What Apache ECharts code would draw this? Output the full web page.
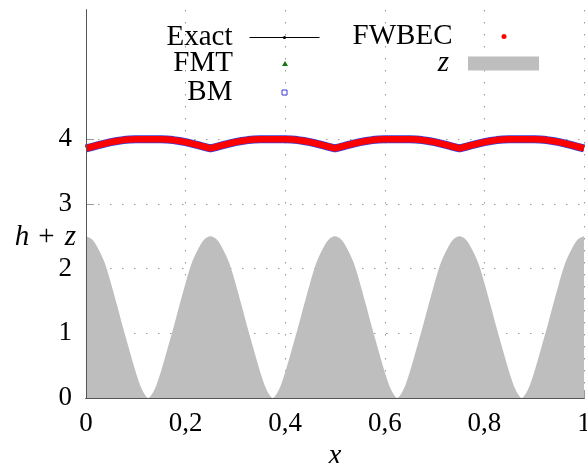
<!DOCTYPE html>
<html>
<head>
<meta charset="utf-8">
<script src="https://cdn.jsdelivr.net/npm/echarts@6/dist/echarts.min.js"></script>
<style>
  html, body { margin: 0; padding: 0; background: #fff; }
  #chart { width: 587px; height: 463px; }
</style>
</head>
<body>
<div id="chart"></div>
<script>
// ---------------- data ----------------
const xValues = [
  0, 0.0125, 0.025, 0.0375, 0.05, 0.0625, 0.075, 0.0875, 0.1, 0.1125,
  0.125, 0.1375, 0.15, 0.1625, 0.175, 0.1875, 0.2, 0.2125, 0.225, 0.2375,
  0.25, 0.2625, 0.275, 0.2875, 0.3, 0.3125, 0.325, 0.3375, 0.35, 0.3625,
  0.375, 0.3875, 0.4, 0.4125, 0.425, 0.4375, 0.45, 0.4625, 0.475, 0.4875,
  0.5, 0.5125, 0.525, 0.5375, 0.55, 0.5625, 0.575, 0.5875, 0.6, 0.6125,
  0.625, 0.6375, 0.65, 0.6625, 0.675, 0.6875, 0.7, 0.7125, 0.725, 0.7375,
  0.75, 0.7625, 0.775, 0.7875, 0.8, 0.8125, 0.825, 0.8375, 0.85, 0.8625,
  0.875, 0.8875, 0.9, 0.9125, 0.925, 0.9375, 0.95, 0.9625, 0.975, 0.9875,
  1
];
// bed elevation z
const bedZ = [
  2.50, 2.45, 2.30, 2.09, 1.78, 1.43, 1.07, 0.73, 0.40, 0.13,
  0.00, 0.13, 0.40, 0.73, 1.07, 1.43, 1.78, 2.09, 2.30, 2.45,
  2.50, 2.45, 2.30, 2.09, 1.78, 1.43, 1.07, 0.73, 0.40, 0.13,
  0.00, 0.13, 0.40, 0.73, 1.07, 1.43, 1.78, 2.09, 2.30, 2.45,
  2.50, 2.45, 2.30, 2.09, 1.78, 1.43, 1.07, 0.73, 0.40, 0.13,
  0.00, 0.13, 0.40, 0.73, 1.07, 1.43, 1.78, 2.09, 2.30, 2.45,
  2.50, 2.45, 2.30, 2.09, 1.78, 1.43, 1.07, 0.73, 0.40, 0.13,
  0.00, 0.13, 0.40, 0.73, 1.07, 1.43, 1.78, 2.09, 2.30, 2.45,
  2.50
];
// free surface h + z (all methods coincide at plot resolution)
const surfaceHZ = [
  3.860, 3.885, 3.910, 3.935, 3.957, 3.975, 3.988, 3.996, 4.000, 4.000,
  4.000, 4.000, 4.000, 3.996, 3.988, 3.975, 3.957, 3.935, 3.910, 3.885,
  3.860, 3.885, 3.910, 3.935, 3.957, 3.975, 3.988, 3.996, 4.000, 4.000,
  4.000, 4.000, 4.000, 3.996, 3.988, 3.975, 3.957, 3.935, 3.910, 3.885,
  3.860, 3.885, 3.910, 3.935, 3.957, 3.975, 3.988, 3.996, 4.000, 4.000,
  4.000, 4.000, 4.000, 3.996, 3.988, 3.975, 3.957, 3.935, 3.910, 3.885,
  3.860, 3.885, 3.910, 3.935, 3.957, 3.975, 3.988, 3.996, 4.000, 4.000,
  4.000, 4.000, 4.000, 3.996, 3.988, 3.975, 3.957, 3.935, 3.910, 3.885,
  3.860
];
const xTickValues = [0, 0.2, 0.4, 0.6, 0.8, 1];
const yTickValues = [0, 1, 2, 3, 4];
const seriesNames = ['Exact', 'FWBEC', 'FMT', 'BM', 'z'];

// ---------------- chart ----------------
const FONT = 'Liberation Serif';
const FS = 27;   // tick labels
const LFS = 29;  // legend / axis titles
const pairs = (ys) => xValues.map((x, i) => [x, ys[i]]);

const chart = echarts.init(document.getElementById('chart'), null, { renderer: 'canvas' });

function legendItem(extra, pad, italic) {
  return Object.assign({
    orient: 'vertical', align: 'right', padding: 0, itemGap: 0, selectedMode: false,
    lineStyle: { width: 1 },
    textStyle: {
      fontFamily: FONT, fontSize: LFS, color: '#000',
      fontStyle: italic ? 'italic' : 'normal', padding: [0, pad, 0, 0]
    }
  }, extra);
}

const option = {
  animation: false,
  backgroundColor: '#fff',
  grid: { left: 86, right: 3, top: 10, bottom: 65, outerBoundsMode: 'none', containLabel: false },
  xAxis: [
    {
      type: 'value', min: 0, max: 1, interval: 0.2, position: 'bottom',
      name: 'x', nameLocation: 'middle', nameGap: 35,
      nameTextStyle: { fontFamily: FONT, fontSize: LFS, fontStyle: 'italic', color: '#000' },
      axisLine: { show: true, lineStyle: { color: '#555', width: 1 } },
      axisTick: { show: true, inside: true, length: 8, lineStyle: { color: '#999' } },
      axisLabel: {
        customValues: xTickValues,
        fontFamily: FONT, fontSize: FS, color: '#000', margin: 12,
        formatter: (v) => String(Math.round(v * 10) / 10).replace('.', ',')
      },
      splitLine: { show: true, lineStyle: { color: '#9a9a9a', type: [1.5, 10.5], width: 1 } }
    },
    {
      type: 'value', min: 0, max: 1, position: 'top', z: 10,
      axisLine: { show: true, lineStyle: { color: '#555', width: 1 } },
      axisTick: { show: false }, axisLabel: { show: false }, splitLine: { show: false }
    },
    {
      type: 'value', min: 0, max: 1, position: 'bottom', z: 10,
      axisLine: { show: true, lineStyle: { color: '#555', width: 1 } },
      axisTick: { show: false }, axisLabel: { show: false }, splitLine: { show: false }
    }
  ],
  yAxis: [
    {
      type: 'value', min: 0, max: 6, interval: 1, position: 'left',
      axisLine: { show: true, lineStyle: { color: '#555', width: 1 } },
      axisTick: { show: true, inside: true, length: 8, customValues: yTickValues, lineStyle: { color: '#999' } },
      axisLabel: {
        customValues: yTickValues,
        fontFamily: FONT, fontSize: FS, color: '#000', margin: 14,
        formatter: (v) => (v <= 4 ? String(v) : '')
      },
      splitLine: {
        show: true,
        lineStyle: {
          color: ['#9a9a9a', '#9a9a9a', '#9a9a9a', '#9a9a9a', '#9a9a9a', 'rgba(0,0,0,0)', 'rgba(0,0,0,0)'],
          type: [1.5, 10.5], width: 1
        }
      }
    },
    {
      type: 'value', min: 0, max: 6, position: 'right', z: 10,
      axisLine: { show: true, lineStyle: { color: '#555', width: 1 } },
      axisTick: { show: false }, axisLabel: { show: false }, splitLine: { show: false }
    },
    {
      type: 'value', min: 0, max: 6, position: 'left', z: 10,
      axisLine: { show: true, lineStyle: { color: '#555', width: 1 } },
      axisTick: { show: false }, axisLabel: { show: false }, splitLine: { show: false }
    }
  ],
  legend: [
    legendItem({ data: [seriesNames[0]], right: 267, top: 23, itemWidth: 70, itemHeight: 4 }, 12),
    legendItem({ data: [{ name: seriesNames[2], icon: 'triangle', itemStyle: { color: '#117711' } }],
      right: 299, top: 49, itemWidth: 6, itemHeight: 5 }, 44),
    legendItem({ data: [{ name: seriesNames[3], icon: 'rect', itemStyle: { color: '#fff', borderColor: '#3b3bd6', borderWidth: 1 } }],
      right: 299.5, top: 78, itemWidth: 5, itemHeight: 5 }, 44.5),
    legendItem({ data: [{ name: seriesNames[1], icon: 'circle', itemStyle: { color: '#ff0000' } }],
      right: 80.5, top: 22, itemWidth: 5, itemHeight: 5 }, 44),
    legendItem({ data: [{ name: seriesNames[4], icon: 'rect', itemStyle: { color: '#bebebe' } }],
      right: 48, top: 49, itemWidth: 71, itemHeight: 14 }, 14, true)
  ],
  graphic: [
    {
      type: 'text', x: 76, y: 237, z: 20,
      style: {
        text: '{i|h}{p|+}{i|z}', align: 'right', verticalAlign: 'middle',
        fontFamily: FONT, fontSize: LFS, fill: '#000',
        rich: {
          i: { fontFamily: FONT, fontSize: LFS, fontStyle: 'italic', fill: '#000' },
          p: { fontFamily: FONT, fontSize: LFS, fill: '#000', padding: [0, 10, 0, 9] }
        }
      }
    }
  ],
  series: [
    {
      name: seriesNames[4], type: 'line', data: pairs(bedZ), symbol: 'none',
      smooth: 0.3,
      lineStyle: { width: 0, color: '#bebebe' }, itemStyle: { color: '#bebebe' },
      areaStyle: { color: '#bebebe', opacity: 1 }, z: 2
    },
    {
      name: seriesNames[0], type: 'line', data: pairs(surfaceHZ),
      symbol: 'circle', symbolSize: 3, showSymbol: false,
      lineStyle: { width: 1, color: '#000' }, itemStyle: { color: '#000' }, z: 3
    },
    {
      name: seriesNames[2], type: 'line', data: pairs(surfaceHZ), symbol: 'none',
      lineStyle: { width: 6, color: '#117711' }, itemStyle: { color: '#117711' }, z: 3
    },
    {
      name: seriesNames[3], type: 'line', data: pairs(surfaceHZ), symbol: 'none',
      lineStyle: { width: 8, color: '#3b3bd6' }, itemStyle: { color: '#3b3bd6' }, z: 3
    },
    {
      name: seriesNames[1], type: 'line', data: pairs(surfaceHZ), symbol: 'none',
      lineStyle: { width: 6.5, color: '#ff0000' }, itemStyle: { color: '#ff0000' }, z: 4
    }
  ]
};
chart.setOption(option);
</script>
</body>
</html>
